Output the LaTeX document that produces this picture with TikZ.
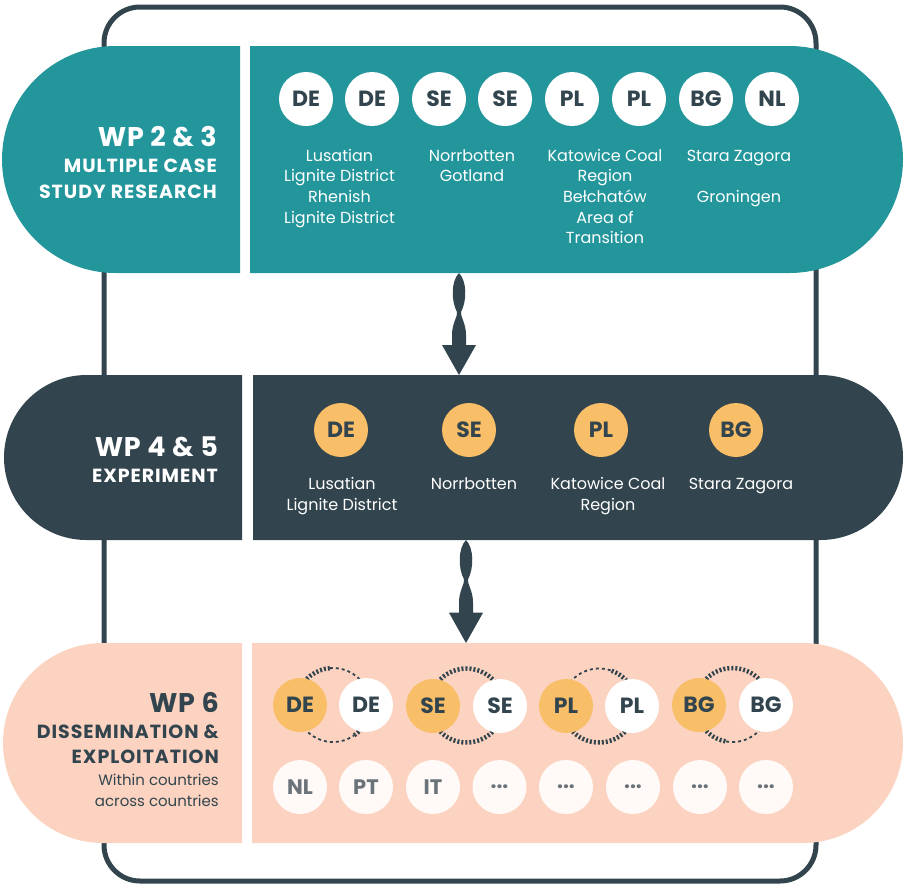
\documentclass[tikz,border=0pt]{standalone}
\usepackage{fontspec}
\setmainfont{Poppins}
\usetikzlibrary{calc}
\definecolor{teal}{HTML}{23969C}
\definecolor{dark}{HTML}{32444D}
\definecolor{peach}{HTML}{FCD3C0}
\definecolor{orng}{HTML}{F8BE68}
\definecolor{offw}{HTML}{FFFAF7}
\definecolor{grayt}{HTML}{6B737A}
\begin{document}
\begin{tikzpicture}[x=1pt,y=-1pt,
  cbig/.style={circle, minimum size=54pt, inner sep=0pt, font=\fontsize{22}{22}\selectfont\bfseries, text=dark},
  wcirc/.style={cbig, fill=white},
  ocirc/.style={cbig, fill=orng},
  gcirc/.style={cbig, fill=offw, text=grayt, font=\fontsize{21}{21}\selectfont\bfseries},
  lbl/.style={font=\fontsize{16}{20.7}\selectfont, align=center, anchor=base, inner sep=0pt},
  head/.style={font=\fontsize{27}{27}\selectfont\bfseries\addfontfeatures{LetterSpace=3}, anchor=base east, inner sep=0pt},
  sub/.style={font=\fontsize{19}{19}\selectfont\bfseries\addfontfeatures{LetterSpace=5}, anchor=base east, inner sep=0pt},
  small/.style={font=\fontsize{15}{15}\selectfont, anchor=base east, inner sep=0pt},
  thickdash/.style={draw=dark, line width=4.5pt, dash pattern=on 2pt off 2pt},
  thindash/.style={draw=dark, line width=1.8pt, dash pattern=on 3pt off 3pt},
  spindle/.pic={\fill[dark] (0,0) .. controls (8,8) and (8,28) .. (2,39)
      .. controls (1,43) and (7,50) .. (7,62) -- (7,72) -- (17,72) -- (0,102)
      -- (-17,72) -- (-7,72) -- (-7,62) .. controls (-7,50) and (-1,43) .. (-2,39)
      .. controls (-8,28) and (-8,8) .. (0,0) -- cycle;}
]
\useasboundingbox (0,0) rectangle (904,887);
% frame
\draw[dark, line width=5pt, rounded corners=36pt] (104,7) rectangle (816,881);
% top band
\fill[teal] (240,46) -- (115.5,46) arc[start angle=270, end angle=90, radius=113.5] -- (240,273) -- cycle;
\fill[teal] (250,46) -- (789.5,46) arc[start angle=270, end angle=450, radius=113.5] -- (250,273) -- cycle;
% middle band
\fill[dark] (242,375) -- (86.5,375) arc[start angle=270, end angle=90, radius=82.5] -- (242,540) -- cycle;
\fill[dark] (253,375) -- (820.5,375) arc[start angle=270, end angle=450, radius=82.5] -- (253,540) -- cycle;
% bottom band
\fill[peach] (242,643) -- (103,643) arc[start angle=270, end angle=90, radius=100] -- (242,843) -- cycle;
\fill[peach] (252,643) -- (803,643) arc[start angle=270, end angle=450, radius=100] -- (252,843) -- cycle;
% connectors
\coordinate (a1) at (459,273);
\coordinate (a2) at (466,540);
\pic at (a1) {spindle};
\pic[yscale=1.01] at (a2) {spindle};
% ---- top band content
\node[head, text=white] (h1) at (217,146) {WP 2 \& 3};
\node[sub, text=white] (h1a) at (217,172) {MULTIPLE CASE};
\node[sub, text=white] (h1b) at (217,198) {STUDY RESEARCH};
\node[wcirc] (t1) at (306,99) {DE};
\node[wcirc] (t2) at (372,99) {DE};
\node[wcirc] (t3) at (439,99) {SE};
\node[wcirc] (t4) at (505,99) {SE};
\node[wcirc] (t5) at (572,99) {PL};
\node[wcirc] (t6) at (639,99) {PL};
\node[wcirc] (t7) at (706,99) {BG};
\node[wcirc] (t8) at (772,99) {NL};
% multi-line nodes: anchor base = last line's baseline
\node[lbl, text=white] (l1) at (339.5,223.1) {Lusatian\\Lignite District\\Rhenish\\Lignite District};
\node[lbl, text=white] (l2) at (472,181.7) {Norrbotten\\Gotland};
\node[lbl, text=white] (l3) at (605,243.8) {Katowice Coal\\Region\\Bełchatów\\Area of\\Transition};
\node[lbl, text=white] (l4) at (739,161) {Stara Zagora};
\node[lbl, text=white] (l5) at (739,202.4) {Groningen};
% ---- middle band content
\node[head, text=white] (h2) at (218,456) {WP 4 \& 5};
\node[sub, text=white] (h2a) at (218,482) {EXPERIMENT};
\node[ocirc] (m1) at (341,430) {DE};
\node[ocirc] (m2) at (469,430) {SE};
\node[ocirc] (m3) at (601,430) {PL};
\node[ocirc] (m4) at (736,430) {BG};
\node[lbl, text=white] (n1) at (342,510) {Lusatian\\Lignite District};
\node[lbl, text=white] (n2) at (474,489) {Norrbotten};
\node[lbl, text=white] (n3) at (608,510) {Katowice Coal\\Region};
\node[lbl, text=white] (n4) at (741,489) {Stara Zagora};
% ---- bottom band content
\node[head, text=dark] (h3) at (219,712) {WP 6};
\node[sub, text=dark] (h3a) at (219,738) {DISSEMINATION \&};
\node[sub, text=dark] (h3b) at (219,763) {EXPLOITATION};
\node[small, text=dark] (h3c) at (219,785) {Within countries};
\node[small, text=dark] (h3d) at (219,806) {across countries};
% rings
\coordinate (r1) at (333,705);
\coordinate (r2) at (466.5,705.5);
\coordinate (r3) at (599,705.5);
\coordinate (r4) at (732.5,705);
\path[thickdash] (r1) ++(200:37) arc[start angle=200, end angle=265, radius=37];
\path[thindash] (r1) ++(265:37) arc[start angle=265, end angle=340, radius=37];
\path[thindash] (r1) ++(160:37) arc[start angle=160, end angle=55, radius=37];
\path[thickdash] (r1) ++(55:37) arc[start angle=55, end angle=20, radius=37];
\path[thindash] (r2) ++(200:37) arc[start angle=200, end angle=225, radius=37];
\path[thickdash] (r2) ++(225:37) arc[start angle=225, end angle=340, radius=37];
\path[thickdash] (r2) ++(160:37) arc[start angle=160, end angle=20, radius=37];
\path[thindash] (r3) ++(200:37) arc[start angle=200, end angle=290, radius=37];
\path[thickdash] (r3) ++(290:37) arc[start angle=290, end angle=340, radius=37];
\path[thickdash] (r3) ++(160:37) arc[start angle=160, end angle=20, radius=37];
\path[thickdash] (r4) ++(200:37) arc[start angle=200, end angle=340, radius=37];
\path[thickdash] (r4) ++(160:37) arc[start angle=160, end angle=100, radius=37];
\path[thindash] (r4) ++(100:37) arc[start angle=100, end angle=20, radius=37];
\node[ocirc] (b1) at (300,705) {DE};
\node[wcirc] (b2) at (366,705) {DE};
\node[ocirc] (b3) at (433,706) {SE};
\node[wcirc] (b4) at (500,706) {SE};
\node[ocirc] (b5) at (566,706) {PL};
\node[wcirc] (b6) at (632,706) {PL};
\node[ocirc] (b7) at (699,705) {BG};
\node[wcirc] (b8) at (766,705) {BG};
\node[gcirc] (c1) at (300,787) {NL};
\node[gcirc] (c2) at (366,787) {PT};
\node[gcirc] (c3) at (433,787) {IT};
\node[gcirc] (c4) at (499.5,787) {...};
\node[gcirc] (c5) at (566,787) {...};
\node[gcirc] (c6) at (633,787) {...};
\node[gcirc] (c7) at (700,787) {...};
\node[gcirc] (c8) at (766,787) {...};
\end{tikzpicture}
\end{document}
